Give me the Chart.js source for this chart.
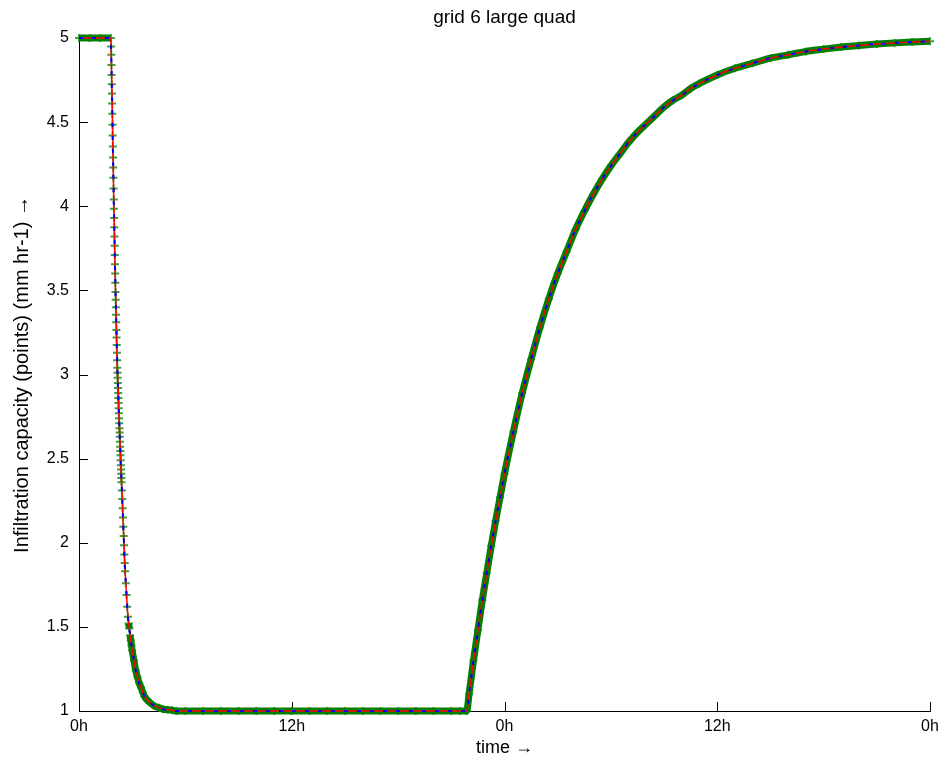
<!DOCTYPE html>
<html>
<head>
<meta charset="utf-8">
<script src="https://cdn.jsdelivr.net/npm/chart.js@4.4.0/dist/chart.umd.min.js"></script>
<style>
  body { margin: 0; background: #fff; }
  #wrap { width: 946px; height: 765px; }
</style>
</head>
<body>
<div id="wrap"><canvas id="myChart"></canvas></div>
<script>
// time in hours since start, infiltration capacity
const hours = [
  0, 0.6, 1.2, 1.8,
  1.81, 1.82, 1.83, 1.84, 1.85, 1.86, 1.87, 1.88, 1.89, 1.90,
  1.91, 1.92, 1.93, 1.94, 1.95, 1.96, 1.97, 1.98, 1.99, 2.00,
  2.01, 2.02, 2.03, 2.04, 2.05, 2.06, 2.07, 2.08, 2.09, 2.10,
  2.11, 2.12, 2.13, 2.14, 2.15, 2.16, 2.17, 2.18, 2.19, 2.20,
  2.21, 2.22, 2.23, 2.24, 2.25, 2.26, 2.27, 2.28, 2.29, 2.30,
  2.31, 2.32, 2.33, 2.34, 2.35, 2.36, 2.37, 2.38, 2.39, 2.40,
  2.42, 2.44, 2.46, 2.48, 2.50, 2.52, 2.54, 2.56, 2.58, 2.60,
  2.64, 2.68, 2.72, 2.76, 2.80, 2.84, 2.88, 2.92, 2.96, 3.00,
  3.10, 3.20, 3.30, 3.40, 3.50, 3.60, 3.70, 3.80, 3.90, 4.00,
  4.25, 4.50, 4.75, 5.00, 5.25, 5.50,
  6, 7, 8, 9, 10, 11, 12, 13, 14, 15, 16, 17, 18, 19, 20, 21, 21.5, 21.87,
  22.00, 22.25, 22.50, 22.75, 23.00, 23.25, 23.50, 23.75, 24.00,
  24.5, 25.0, 25.5, 26.0, 26.5, 27.0, 27.5, 28.0, 28.5, 29.0, 29.5,
  30.0, 30.5, 31.0, 31.5, 32.0, 32.5, 33.0, 33.5, 34.0, 34.5, 35.0,
  36, 37, 38, 39, 40, 41, 42, 43, 44, 45, 46, 47, 48
];
const capacity = [
  5, 5, 5, 5,
  4.95, 4.90, 4.84, 4.78, 4.725, 4.67, 4.61, 4.55, 4.485, 4.42,
  4.355, 4.29, 4.23, 4.17, 4.105, 4.04, 3.985, 3.93, 3.875, 3.82,
  3.765, 3.71, 3.655, 3.60, 3.545, 3.49, 3.445, 3.40, 3.355, 3.31,
  3.265, 3.22, 3.175, 3.13, 3.085, 3.04, 3.01, 2.98, 2.95, 2.92,
  2.89, 2.86, 2.83, 2.80, 2.77, 2.74, 2.71, 2.68, 2.655, 2.63,
  2.60, 2.57, 2.545, 2.52, 2.49, 2.46, 2.435, 2.41, 2.385, 2.36,
  2.31, 2.26, 2.205, 2.15, 2.095, 2.04, 1.985, 1.93, 1.88, 1.83,
  1.76, 1.69, 1.62, 1.56, 1.52, 1.49, 1.45, 1.42, 1.39, 1.36,
  1.30, 1.24, 1.20, 1.165, 1.14, 1.11, 1.085, 1.07, 1.06, 1.05,
  1.03, 1.02, 1.01, 1.008, 1.005, 1.00,
  1, 1, 1, 1, 1, 1, 1, 1, 1, 1, 1, 1, 1, 1, 1, 1, 1, 1,
  1.10, 1.30, 1.48, 1.66, 1.82, 1.98, 2.13, 2.27, 2.41,
  2.66, 2.89, 3.09, 3.28, 3.45, 3.60, 3.73, 3.86, 3.97, 4.07, 4.16,
  4.24, 4.31, 4.38, 4.44, 4.49, 4.54, 4.59, 4.63, 4.66, 4.70, 4.73,
  4.78, 4.82, 4.85, 4.88, 4.90, 4.92, 4.934, 4.946, 4.956, 4.964, 4.971, 4.976, 4.98
];
const xTickLabels = ['0h', '12h', '0h', '12h', '0h'];

const points = hours.map((h, i) => ({ x: h, y: capacity[i] }));
const font = 'Liberation Sans, Arial, sans-serif';

// MATLAB style tick marks pointing into the axes
const inwardTicks = {
  id: 'inwardTicks',
  beforeDatasetsDraw(chart) {
    const { ctx, chartArea, scales } = chart;
    ctx.save();
    ctx.strokeStyle = '#000';
    ctx.lineWidth = 1;
    ctx.beginPath();
    scales.x.ticks.forEach(t => {
      const px = Math.round(scales.x.getPixelForValue(t.value)) + 0.5;
      ctx.moveTo(px, chartArea.bottom);
      ctx.lineTo(px, chartArea.bottom - 9);
    });
    scales.y.ticks.forEach(t => {
      const py = Math.round(scales.y.getPixelForValue(t.value)) + 0.5;
      ctx.moveTo(chartArea.left, py);
      ctx.lineTo(chartArea.left + 9, py);
    });
    ctx.stroke();
    ctx.restore();
  }
};

const green = '#008000';

new Chart(document.getElementById('myChart'), {
  type: 'line',
  data: {
    datasets: [{
      label: 'blue',
      data: points,
      order: 0,
      borderColor: '#0000ff',
      borderWidth: 2,
      borderDash: [4, 9],
      pointRadius: 0,
      cubicInterpolationMode: 'monotone',
      clip: false
    }, {
      label: 'red',
      data: points,
      order: 1,
      borderColor: '#ff0000',
      borderWidth: 1.5,
      pointRadius: 0,
      cubicInterpolationMode: 'monotone',
      clip: false
    }, {
      label: 'green',
      data: points,
      order: 2,
      borderColor: green,
      borderWidth: 7,
      pointStyle: 'cross',
      pointRadius: 4,
      pointBorderWidth: 2,
      pointBorderColor: 'rgba(0,128,0,0.75)',
      cubicInterpolationMode: 'monotone',
      segment: {
        borderColor: c => (c.p1.y - c.p0.y > 8 * Math.abs(c.p1.x - c.p0.x)) ? 'rgba(0,0,0,0)' : green
      },
      clip: false
    }]
  },
  options: {
    responsive: true,
    maintainAspectRatio: false,
    animation: false,
    events: [],
    layout: { padding: { left: 0, right: 16, top: 0, bottom: 0 } },
    scales: {
      x: {
        type: 'linear',
        min: 0,
        max: 48,
        afterFit: s => { s.height = 54; },
        afterBuildTicks: s => { s.ticks = [0, 12, 24, 36, 48].map(v => ({ value: v })); },
        grid: { display: false, drawTicks: false },
        border: { display: true, color: '#000', width: 1 },
        ticks: {
          padding: 6,
          color: '#000',
          font: { family: font, size: 16 },
          maxRotation: 0,
          callback: (v, i) => xTickLabels[i]
        },
        title: {
          display: true,
          text: 'time \u2192',
          color: '#000',
          font: { family: font, size: 18 },
          padding: { top: 0, bottom: 6 }
        }
      },
      // carries the plot title so it is centred over the axes
      top: {
        type: 'linear',
        position: 'top',
        min: 0,
        max: 48,
        afterFit: s => { s.height = 38; },
        grid: { display: false, drawTicks: false },
        border: { display: false },
        ticks: { display: false },
        title: {
          display: true,
          text: 'grid 6 large quad',
          color: '#000',
          font: { family: font, size: 19 },
          padding: { top: 6, bottom: 0 }
        }
      },
      y: {
        type: 'linear',
        min: 1,
        max: 5,
        afterFit: s => { s.width = 79; },
        grid: { display: false, drawTicks: false },
        border: { display: true, color: '#000', width: 1 },
        ticks: {
          stepSize: 0.5,
          padding: 10,
          color: '#000',
          font: { family: font, size: 16 },
          callback: v => String(v)
        },
        title: {
          display: true,
          text: 'Infiltration capacity (points) (mm hr-1) \u2192',
          color: '#000',
          font: { family: font, size: 20 },
          padding: { top: 10, bottom: 0 }
        }
      }
    },
    plugins: {
      legend: { display: false },
      tooltip: { enabled: false },
      title: { display: false }
    }
  },
  plugins: [inwardTicks]
});
</script>
</body>
</html>
